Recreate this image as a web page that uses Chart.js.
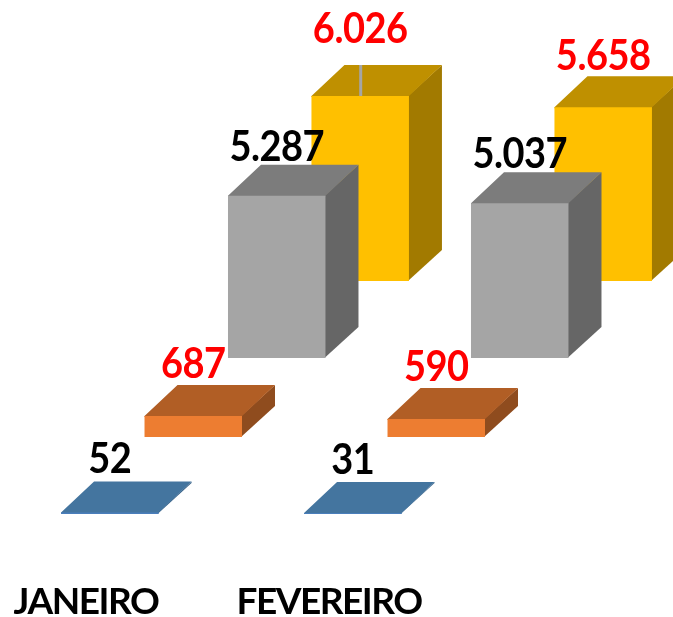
<!DOCTYPE html>
<html>
<head>
<meta charset="utf-8">
<title>Janeiro / Fevereiro</title>
<script src="https://cdn.jsdelivr.net/npm/chart.js@4"></script>
<style>
  html, body { margin: 0; padding: 0; background: #fff; overflow: hidden; }
  canvas { display: block; }
</style>
</head>
<body>
<canvas id="chart" width="673" height="617"></canvas>
<script>
const months = ['JANEIRO', 'FEVEREIRO'];
const serieA = [52, 31];
const serieB = [687, 590];
const serieC = [5287, 5037];
const serieD = [6026, 5658];

const FONT = 'Lato, "Liberation Sans", sans-serif';
const PX_PER_UNIT = 0.0307;
const AREA_BOTTOM = 557;
const DEPTH_X = 33;
const DEPTH_Y = 31;

// each series sits on its own row of the fake 3D floor, so each gets its own y axis
function rowAxis(floorPixel) {
  const min = -(AREA_BOTTOM - floorPixel) / PX_PER_UNIT;
  return { display: false, min, max: min + AREA_BOTTOM / PX_PER_UNIT, grid: { display: false } };
}

function series(data, axis, front, top, side, labelColor, labelLift) {
  return {
    data, yAxisID: axis, clip: false, borderWidth: 0,
    backgroundColor: front,
    topColor: top, sideColor: side, labelColor, labelLift,
  };
}

function poly(ctx, color, pts) {
  ctx.fillStyle = color;
  ctx.beginPath();
  pts.forEach((p, i) => (i ? ctx.lineTo(p[0], p[1]) : ctx.moveTo(p[0], p[1])));
  ctx.closePath();
  ctx.fill();
}

const box3d = {
  id: 'box3d',
  beforeDraw(chart) {
    // the axis labels are narrower than Lato, tighten them a little
    chart.ctx.letterSpacing = '-1.5px';
  },
  beforeDatasetDraw(chart, args) {
    const ctx = chart.ctx;
    const ds = chart.data.datasets[args.index];
    ctx.save();
    for (const bar of args.meta.data) {
      const l = bar.x - bar.width / 2;
      const r = bar.x + bar.width / 2;
      // side and top start 1px under the front face so no seam shows through
      poly(ctx, ds.sideColor, [[r - 1, bar.y], [r + DEPTH_X, bar.y - DEPTH_Y], [r + DEPTH_X, bar.base - DEPTH_Y], [r - 1, bar.base]]);
      poly(ctx, ds.topColor, [[l, bar.y + 1], [l, bar.y], [l + DEPTH_X, bar.y - DEPTH_Y], [r + DEPTH_X, bar.y - DEPTH_Y], [r, bar.y], [r, bar.y + 1]]);
    }
    ctx.restore();
  },
  afterDatasetsDraw(chart) {
    const ctx = chart.ctx;
    ctx.save();
    // leader line of the one label that was dragged up in the original
    const moved = chart.getDatasetMeta(3).data[0];
    ctx.fillStyle = '#A5A5A5';
    ctx.fillRect(moved.x - 1, moved.y - DEPTH_Y, 3, DEPTH_Y);

    ctx.letterSpacing = '-0.5px';
    ctx.font = 'bold 38px ' + FONT;
    ctx.textAlign = 'center';
    ctx.textBaseline = 'alphabetic';
    chart.data.datasets.forEach((ds, i) => {
      chart.getDatasetMeta(i).data.forEach((bar, j) => {
        const lift = i === 3 && j === 0 ? 53 : ds.labelLift;
        ctx.fillStyle = ds.labelColor;
        // original digits are taller and narrower than Lato
        ctx.save();
        ctx.translate(bar.x, bar.y - lift);
        ctx.scale(1, 1.1);
        ctx.fillText(ds.data[j].toLocaleString('pt-BR'), 0, 0);
        ctx.restore();
      });
    });
    ctx.restore();
  },
};

new Chart(document.getElementById('chart'), {
  type: 'bar',
  data: {
    labels: months,
    datasets: [
      series(serieA, 'y0', '#4A7EBB', '#44759F', '#3A6389', '#000', 39),
      series(serieB, 'y1', '#ED7D31', '#B15E25', '#8F4C1E', '#FF0000', 38),
      series(serieC, 'y2', '#A5A5A5', '#7C7C7C', '#666666', '#000', 35),
      series(serieD, 'y3', '#FFC000', '#BF9000', '#A27A00', '#FF0000', 37),
    ],
  },
  options: {
    responsive: false,
    animation: false,
    events: [],
    categoryPercentage: 1.374,
    barPercentage: 1.168,
    layout: { padding: { left: 113.5, right: 73.5, top: 0, bottom: 0 } },
    plugins: { legend: { display: false }, title: { display: false }, tooltip: { enabled: false } },
    scales: {
      x: {
        border: { display: false },
        grid: { display: false },
        afterFit(scale) { scale.height = 60; },
        ticks: {
          autoSkip: false,
          maxRotation: 0,
          labelOffset: -149,
          padding: 15,
          color: '#000',
          font: { family: FONT, size: 37, weight: 'bold' },
        },
      },
      y0: rowAxis(514),
      y1: rowAxis(437),
      y2: rowAxis(358),
      y3: rowAxis(281),
    },
  },
  plugins: [box3d],
});
</script>
</body>
</html>
